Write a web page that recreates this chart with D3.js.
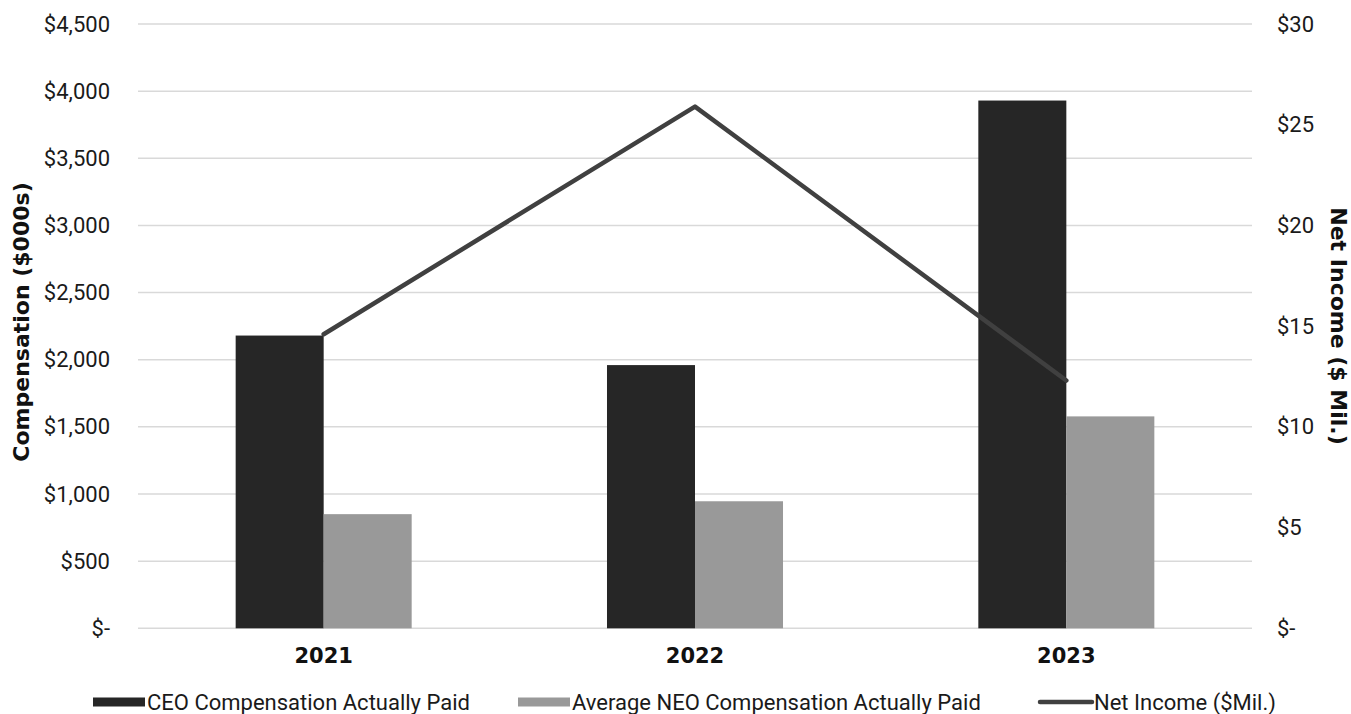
<!DOCTYPE html>
<html>
<head>
<meta charset="utf-8">
<script src="https://cdn.jsdelivr.net/npm/d3@7"></script>
<style>
  html, body { margin: 0; padding: 0; background: #ffffff; }
  svg { display: block; }
</style>
</head>
<body>
<svg id="chart" width="1351" height="714"></svg>
<script>
// Fiscal years shown on the x axis
const years = ["2021", "2022", "2023"];

// Compensation actually paid, in $000s (left axis)
const ceoComp = [2180, 1960, 3930];
const neoComp = [850, 946, 1578];

// Net income, in $ millions (right axis)
const netIncome = [14.6, 25.9, 12.3];

// Axis tick values
const leftTicks = [0, 500, 1000, 1500, 2000, 2500, 3000, 3500, 4000, 4500];
const rightTicks = [0, 5, 10, 15, 20, 25, 30];

const seriesNames = ["CEO Compensation Actually Paid", "Average NEO Compensation Actually Paid", "Net Income ($Mil.)"];

const plot = { left: 138, right: 1252, top: 24, bottom: 628.3 };

const svg = d3.select("#chart");
const tickFont = "Roboto, 'Liberation Sans', sans-serif";
const heavyFont = "'DejaVu Sans', sans-serif";

const x = d3.scaleBand()
  .domain(years)
  .range([plot.left, plot.right])
  .paddingInner(0.526)
  .paddingOuter(0.263);

const xSeries = d3.scaleBand()
  .domain(["ceo", "neo"])
  .range([0, x.bandwidth()]);

const yLeft = d3.scaleLinear().domain([0, 4500]).range([plot.bottom, plot.top]);
const yRight = d3.scaleLinear().domain([0, 30]).range([plot.bottom, plot.top]);

const fmtLeft = v => v === 0 ? "$-" : "$" + d3.format(",")(v);
const fmtRight = v => v === 0 ? "$-" : "$" + v;

// Horizontal gridlines
svg.append("g")
  .selectAll("line")
  .data(leftTicks)
  .join("line")
  .attr("x1", plot.left)
  .attr("x2", plot.right)
  .attr("y1", d => yLeft(d))
  .attr("y2", d => yLeft(d))
  .attr("stroke", "#d9d9d9")
  .attr("stroke-width", 1.5);

// Left axis
const leftAxis = svg.append("g")
  .attr("transform", `translate(${plot.left},0)`)
  .call(d3.axisLeft(yLeft).tickValues(leftTicks).tickFormat(fmtLeft).tickSize(0).tickPadding(28));
leftAxis.select(".domain").remove();
leftAxis.selectAll("text")
  .attr("font-family", tickFont)
  .attr("font-size", 22)
  .attr("fill", "#1a1a1a");

// Right axis
const rightAxis = svg.append("g")
  .attr("transform", `translate(${plot.right},0)`)
  .call(d3.axisRight(yRight).tickValues(rightTicks).tickFormat(fmtRight).tickSize(0).tickPadding(25));
rightAxis.select(".domain").remove();
rightAxis.selectAll("text")
  .attr("font-family", tickFont)
  .attr("font-size", 22)
  .attr("fill", "#1a1a1a");

// Bars
const barData = years.map((yr, i) => [
  { year: yr, key: "ceo", value: ceoComp[i] },
  { year: yr, key: "neo", value: neoComp[i] }
]).flat();
const barColor = { ceo: "#262626", neo: "#999999" };

svg.append("g")
  .selectAll("rect")
  .data(barData)
  .join("rect")
  .attr("x", d => x(d.year) + xSeries(d.key))
  .attr("width", xSeries.bandwidth())
  .attr("y", d => yLeft(d.value))
  .attr("height", d => yLeft(0) - yLeft(d.value))
  .attr("fill", d => barColor[d.key]);

// Net income line
const line = d3.line()
  .x((d, i) => x(years[i]) + x.bandwidth() / 2)
  .y(d => yRight(d));

svg.append("path")
  .datum(netIncome)
  .attr("d", line)
  .attr("fill", "none")
  .attr("stroke", "#404040")
  .attr("stroke-width", 4.5)
  .attr("stroke-linejoin", "round")
  .attr("stroke-linecap", "round");

// Category labels
svg.append("g")
  .selectAll("text")
  .data(years)
  .join("text")
  .attr("x", d => x(d) + x.bandwidth() / 2)
  .attr("y", 663)
  .attr("text-anchor", "middle")
  .attr("font-family", heavyFont)
  .attr("font-weight", "bold")
  .attr("font-size", 21)
  .attr("fill", "#111")
  .text(d => d);

// Axis titles
svg.append("text")
  .attr("transform", "translate(29,322) rotate(-90)")
  .attr("text-anchor", "middle")
  .attr("font-family", heavyFont)
  .attr("font-weight", "bold")
  .attr("font-size", 22)
  .attr("fill", "#111")
  .text("Compensation ($000s)");

svg.append("text")
  .attr("transform", "translate(1331,326) rotate(90)")
  .attr("text-anchor", "middle")
  .attr("font-family", heavyFont)
  .attr("font-weight", "bold")
  .attr("font-size", 22)
  .attr("fill", "#111")
  .text("Net Income ($ Mil.)");

// Legend
const legendItems = [
  { name: seriesNames[0], type: "rect", color: "#262626", x: 93 },
  { name: seriesNames[1], type: "rect", color: "#999999", x: 518 },
  { name: seriesNames[2], type: "line", color: "#404040", x: 1040 }
];
const legend = svg.append("g").attr("transform", "translate(0,702)");
const item = legend.selectAll("g")
  .data(legendItems)
  .join("g")
  .attr("transform", d => `translate(${d.x},0)`);
item.filter(d => d.type === "rect")
  .append("rect")
  .attr("x", 0).attr("y", -4.5)
  .attr("width", 52).attr("height", 9)
  .attr("fill", d => d.color);
item.filter(d => d.type === "line")
  .append("line")
  .attr("x1", 0).attr("x2", 52)
  .attr("y1", 0).attr("y2", 0)
  .attr("stroke", d => d.color)
  .attr("stroke-width", 4.5)
  .attr("stroke-linecap", "round");
item.append("text")
  .attr("x", 54)
  .attr("y", 0)
  .attr("dy", "0.35em")
  .attr("font-family", tickFont)
  .attr("font-size", 22)
  .attr("fill", "#1a1a1a")
  .text(d => d.name);
</script>
</body>
</html>
